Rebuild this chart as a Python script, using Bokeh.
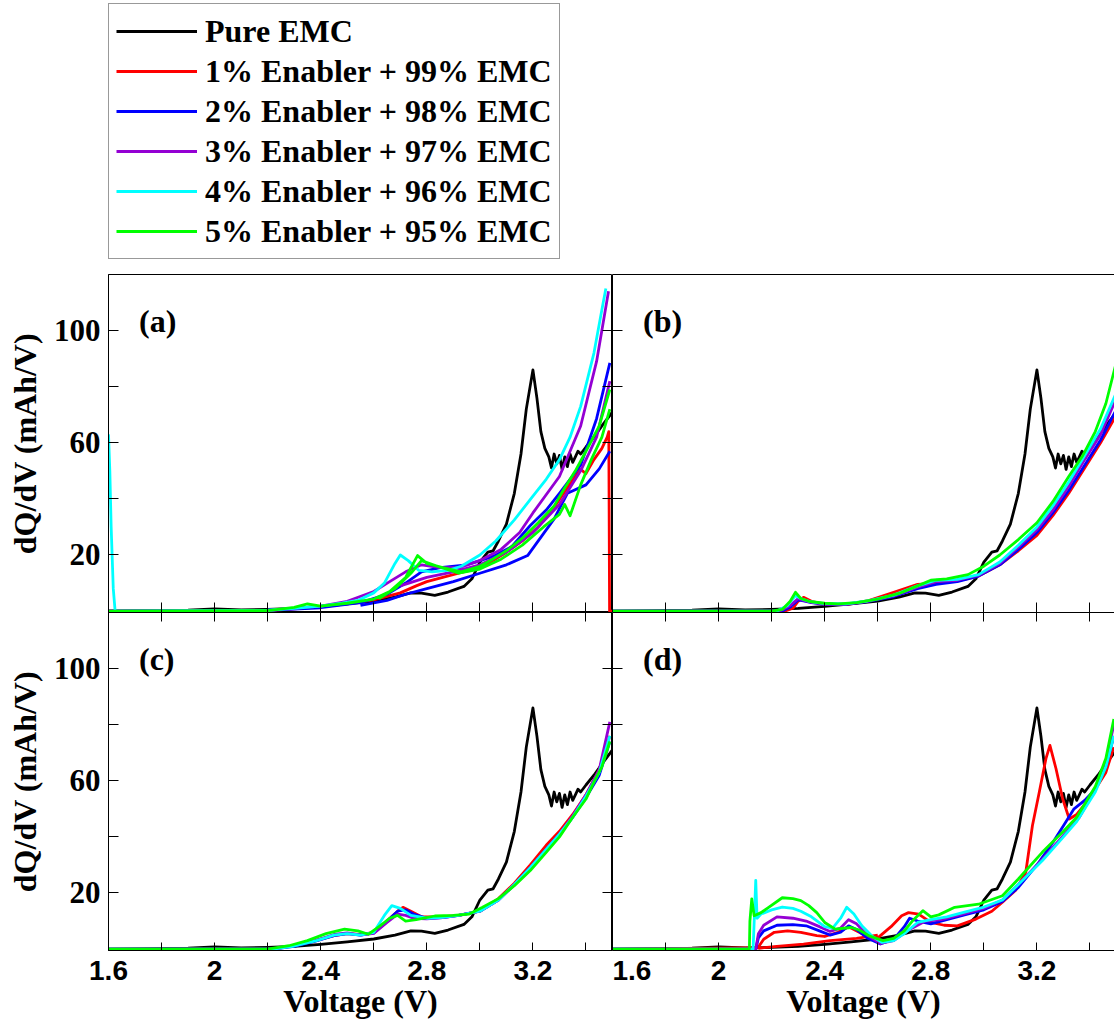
from bokeh.plotting import figure
from bokeh.models import Range1d, FixedTicker, LinearAxis, Legend, LegendItem, Label
from bokeh.layouts import column, row
from bokeh.embed import file_html
from bokeh.resources import INLINE

NAN = float("nan")

# ---- series names / colours -------------------------------------------------
NAMES = ["Pure EMC", "1% Enabler + 99% EMC", "2% Enabler + 98% EMC",
         "3% Enabler + 97% EMC", "4% Enabler + 96% EMC", "5% Enabler + 95% EMC"]
COLORS = ["#000000", "#ff0000", "#0000ff", "#9400d3", "#00ffff", "#00ff00"]

# ---- axis ticks (labelled majors, unlabelled minors) ------------------------
X_MAJOR = [1.6, 2.0, 2.4, 2.8, 3.2]
X_MINOR = [1.8, 2.2, 2.6, 3.0, 3.4]
X_LABELS = {1.6: "1.6", 2.0: "2", 2.4: "2.4", 2.8: "2.8", 3.2: "3.2"}
Y_MAJOR = [20, 60, 100]
Y_MINOR = [40, 80]

# ---- Pure EMC (same reference cell in every panel) --------------------------
BLACK_V = [1.60, 1.90, 2.00, 2.10, 2.20, 2.30, 2.40, 2.50, 2.60, 2.68, 2.74, 2.78,
           2.83, 2.88, 2.94, 2.97, 3.00, 3.03, 3.05, 3.07, 3.10, 3.13, 3.155, 3.175,
           3.20, 3.215, 3.23, 3.245, 3.26, 3.27, 3.28, 3.29, 3.30, 3.31, 3.32, 3.33,
           3.34, 3.35, 3.36, 3.37, 3.38, 3.40, 3.43, 3.46, 3.50]
BLACK_Y = [0.0, 0.3, 0.8, 0.4, 0.6, 1.0, 1.7, 2.6, 3.6, 5.0, 6.5, 6.4,
           5.6, 6.8, 8.8, 11.5, 17.5, 21.0, 21.5, 25.0, 31.0, 42.0, 56.0, 72.0,
           86.0, 76.0, 64.0, 58.0, 55.0, 51.0, 56.0, 52.5, 55.5, 50.5, 55.0, 51.5,
           56.0, 53.0, 55.0, 57.0, 56.0, 58.5, 62.0, 66.0, 71.0]

# ---- panel (a) --------------------------------------------------------------
A_RED_V = [1.60, 2.20, 2.30, 2.40, 2.50, 2.60, 2.70, 2.76, 2.80, 2.86, 2.92, 2.98,
           3.04, 3.10, 3.16, 3.22, 3.28, 3.33, 3.36, 3.38, 3.40, 3.43, 3.46, 3.48,
           3.486, 3.489, 3.50]
A_RED_Y = [0.0, 0.2, 0.8, 1.5, 2.6, 4.0, 6.5, 9.0, 10.5, 12.0, 13.5, 15.0,
           17.5, 21.0, 25.0, 30.0, 37.0, 44.0, 48.0, 50.5, 49.0, 54.0, 58.0, 62.0,
           64.0, 0.0, 0.0]
A_BLUE_V = [1.60, 2.20, 2.40, 2.55, 2.65, 2.72, 2.78, 2.85, 2.95, 3.05, 3.12, 3.19,
            3.25, 3.30, 3.38, 3.44, 3.49, NAN,
            2.55, 2.65, 2.72, 2.80, 2.90, 3.00, 3.10, 3.18, 3.28, 3.33, 3.40, 3.45, 3.49]
A_BLUE_Y = [0.0, 0.3, 1.2, 3.0, 6.0, 10.0, 14.0, 15.5, 16.5, 19.5, 23.0, 30.5,
            36.0, 42.0, 52.0, 68.6, 88.5, NAN,
            2.0, 3.8, 6.0, 8.0, 10.5, 13.5, 16.5, 19.8, 32.9, 42.0, 45.0, 50.7, 57.0]
A_PURPLE_V = [1.60, 2.20, 2.30, 2.40, 2.50, 2.60, 2.66, 2.72, 2.78, 2.85, 2.92, 3.00,
              3.08, 3.15, 3.20, 3.30, 3.38, 3.44, 3.485, NAN,
              2.70, 2.80, 2.90, 3.00, 3.10, 3.20, 3.30, 3.38, 3.44, 3.49]
A_PURPLE_Y = [0.0, 0.3, 1.0, 1.8, 3.5, 7.0, 10.5, 14.0, 16.5, 15.5, 15.5, 18.0,
              22.0, 28.0, 35.0, 48.0, 66.0, 89.0, 114.0, NAN,
              9.0, 12.0, 14.0, 16.5, 21.0, 28.0, 38.0, 50.0, 62.0, 82.0]
A_CYAN_V = [1.600, 1.605, 1.610, 1.618, 1.625, 2.20, 2.30, 2.40, 2.48, 2.54, 2.60, 2.64,
            2.68, 2.70, 2.73, 2.77, 2.82, 2.88, 2.93, 3.00, 3.06, 3.13, 3.20, 3.25,
            3.30, 3.34, 3.38, 3.43, 3.465, 3.475]
A_CYAN_Y = [63.0, 50.0, 30.0, 8.0, 0.0, 0.3, 1.0, 1.8, 2.8, 3.8, 6.5, 10.0,
            17.0, 20.0, 18.0, 14.5, 14.0, 14.5, 16.0, 20.0, 25.0, 32.5, 41.0, 47.0,
            54.0, 62.0, 73.0, 92.0, 110.0, 115.0]
A_GREEN_V = [1.60, 2.20, 2.30, 2.35, 2.40, 2.50, 2.60, 2.66, 2.72, 2.765, 2.80, 2.86,
             2.93, 3.00, 3.05, 3.10, 3.16, 3.22, 3.28, 3.32, 3.36, 3.40, 3.45, 3.49, NAN,
             2.62, 2.68, 2.74, 2.78, 2.84, 2.92, 3.00, 3.08, 3.16, 3.24, 3.30, 3.32,
             3.34, 3.38, 3.42, 3.46, 3.49]
A_GREEN_Y = [0.0, 0.2, 1.3, 2.6, 1.8, 2.8, 4.3, 7.0, 12.0, 19.8, 17.0, 15.5,
             14.0, 16.0, 18.6, 21.5, 26.0, 31.5, 37.5, 44.0, 50.0, 57.0, 66.0, 79.0, NAN,
             4.5, 8.0, 13.5, 18.0, 16.0, 13.5, 15.0, 18.5, 23.5, 30.0, 34.5, 38.0,
             34.0, 45.0, 54.0, 62.0, 72.0]

# ---- panel (b) --------------------------------------------------------------
B_RED_V = [1.60, 2.25, 2.28, 2.30, 2.32, 2.35, 2.40, 2.48, 2.56, 2.66, 2.75, 2.82,
           2.90, 2.98, 3.06, 3.13, 3.20, 3.26, 3.32, 3.38, 3.44, 3.50]
B_RED_Y = [0.0, 0.0, 1.0, 3.5, 4.9, 3.5, 2.4, 2.3, 3.6, 6.7, 9.5, 10.0,
           10.8, 12.5, 16.5, 21.5, 27.0, 34.0, 42.0, 51.0, 60.0, 70.0]
B_BLUE_V = [1.60, 2.24, 2.27, 2.30, 2.32, 2.35, 2.40, 2.48, 2.56, 2.66, 2.75, 2.82,
            2.90, 2.98, 3.06, 3.13, 3.20, 3.26, 3.32, 3.38, 3.44, 3.50]
B_BLUE_Y = [0.0, 0.0, 1.5, 4.0, 3.6, 3.0, 2.4, 2.4, 3.4, 5.2, 8.0, 9.5,
            10.5, 12.5, 16.5, 22.0, 28.0, 35.0, 43.0, 52.0, 61.0, 72.0]
B_PURPLE_V = [1.60, 2.23, 2.27, 2.30, 2.32, 2.35, 2.40, 2.48, 2.56, 2.66, 2.75, 2.82,
              2.90, 2.98, 3.06, 3.13, 3.20, 3.26, 3.32, 3.38, 3.44, 3.50]
B_PURPLE_Y = [0.0, 0.0, 2.0, 4.5, 3.8, 3.1, 2.5, 2.5, 3.5, 5.5, 8.5, 10.5,
              11.0, 12.8, 17.0, 22.8, 29.0, 36.0, 44.5, 54.0, 63.0, 76.0]
B_CYAN_V = [1.60, 2.22, 2.26, 2.29, 2.31, 2.34, 2.40, 2.48, 2.56, 2.66, 2.75, 2.82,
            2.90, 2.98, 3.06, 3.13, 3.20, 3.26, 3.32, 3.38, 3.44, 3.50]
B_CYAN_Y = [0.0, 0.0, 2.0, 5.5, 4.5, 3.5, 2.7, 2.6, 3.6, 5.7, 9.0, 11.0,
            11.3, 13.0, 17.5, 23.5, 30.0, 37.5, 46.0, 55.5, 65.0, 78.0]
B_GREEN_V = [1.60, 2.20, 2.24, 2.27, 2.29, 2.31, 2.34, 2.40, 2.45, 2.52, 2.60, 2.68,
             2.75, 2.80, 2.86, 2.94, 3.00, 3.06, 3.13, 3.20, 3.26, 3.32, 3.37, 3.42,
             3.46, 3.50]
B_GREEN_Y = [0.0, 0.0, 0.6, 3.5, 6.7, 4.5, 3.5, 2.8, 2.6, 3.0, 4.3, 6.3,
             9.0, 11.0, 11.5, 13.0, 16.0, 20.0, 25.5, 31.5, 39.0, 48.0, 55.0, 64.0,
             74.0, 89.0]

# ---- panel (c) --------------------------------------------------------------
C_RED_V = [1.60, 2.22, 2.30, 2.38, 2.45, 2.50, 2.55, 2.60, 2.65, 2.69, 2.71, 2.74,
           2.78, 2.85, 2.92, 3.00, 3.07, 3.13, 3.19, 3.25, 3.30, 3.35, 3.40, 3.45, 3.49]
C_RED_Y = [0.0, 0.0, 1.2, 3.0, 4.8, 5.5, 5.2, 6.0, 10.0, 13.5, 14.9, 13.5,
           11.5, 11.5, 12.0, 13.5, 18.0, 23.5, 30.0, 37.0, 42.0, 48.0, 55.0, 64.0, 76.0]
C_BLUE_V = [1.60, 2.22, 2.30, 2.38, 2.45, 2.50, 2.55, 2.60, 2.65, 2.69, 2.72, 2.75,
            2.80, 2.86, 2.92, 3.00, 3.07, 3.13, 3.19, 3.25, 3.30, 3.35, 3.40, 3.45, 3.49]
C_BLUE_Y = [0.0, 0.0, 1.0, 2.8, 4.8, 5.5, 5.0, 5.8, 10.0, 13.5, 14.0, 12.5,
            11.0, 11.2, 12.0, 13.5, 17.5, 23.0, 29.0, 35.5, 41.0, 47.0, 54.0, 62.0, 74.0]
C_PURPLE_V = [1.60, 2.22, 2.30, 2.38, 2.45, 2.50, 2.55, 2.60, 2.65, 2.69, 2.72, 2.75,
              2.80, 2.86, 2.92, 3.00, 3.07, 3.13, 3.19, 3.25, 3.30, 3.35, 3.40, 3.45,
              3.49]
C_PURPLE_Y = [0.0, 0.0, 1.2, 3.0, 5.2, 5.8, 5.0, 5.6, 9.5, 12.5, 12.0, 11.0,
              10.8, 11.2, 12.0, 13.5, 17.5, 23.0, 29.0, 35.5, 41.0, 47.5, 55.0, 64.0,
              81.0]
C_CYAN_V = [1.60, 2.22, 2.30, 2.38, 2.45, 2.50, 2.55, 2.60, 2.64, 2.668, 2.70, 2.74,
            2.80, 2.86, 2.92, 3.00, 3.07, 3.13, 3.19, 3.25, 3.30, 3.35, 3.40, 3.45, 3.49]
C_CYAN_Y = [0.0, 0.0, 1.1, 2.9, 5.0, 5.5, 5.0, 6.0, 12.0, 15.5, 14.5, 12.0,
            11.0, 11.3, 12.0, 13.5, 17.5, 23.0, 29.0, 35.5, 41.0, 47.0, 54.5, 63.0, 76.0]
C_GREEN_V = [1.60, 2.20, 2.28, 2.35, 2.42, 2.49, 2.54, 2.58, 2.62, 2.66, 2.69, 2.72,
             2.76, 2.83, 2.90, 2.96, 3.01, 3.07, 3.13, 3.19, 3.25, 3.30, 3.35, 3.40,
             3.43, 3.46, 3.49]
C_GREEN_Y = [0.0, 0.0, 1.2, 3.0, 5.5, 7.1, 6.5, 5.3, 8.0, 11.0, 12.0, 10.0,
             10.5, 11.8, 12.0, 12.5, 14.9, 18.0, 22.6, 28.0, 34.5, 40.0, 47.0, 53.5,
             59.5, 65.0, 74.0]

# ---- panel (d) --------------------------------------------------------------
D_RED_V = [1.60, 2.148, 2.17, 2.21, 2.26, 2.31, 2.37, 2.40, 2.45, 2.49, 2.55, 2.60,
           2.65, 2.69, 2.716, 2.754, 2.80, 2.85, 2.90, 2.97, 3.03, 3.07, 3.12, 3.158,
           3.183, 3.209, 3.234, 3.249, 3.272, 3.297, 3.322, 3.35, 3.384, 3.42, 3.46,
           3.49, NAN,
           2.15, 2.22, 2.32, 2.42, 2.52, 2.60]
D_RED_Y = [0.0, 0.5, 3.5, 6.0, 6.5, 6.0, 4.8, 4.5, 6.0, 8.0, 5.0, 4.0,
           8.0, 11.9, 13.0, 12.5, 9.5, 8.5, 8.3, 10.7, 13.5, 16.7, 21.0, 27.4,
           44.0, 56.0, 67.9, 72.6, 64.3, 53.6, 46.4, 48.0, 52.0, 57.0, 63.0,
           72.0, NAN,
           0.3, 1.0, 1.8, 3.0, 3.8, 5.0]
D_BLUE_V = [1.60, 2.14, 2.15, 2.17, 2.22, 2.28, 2.33, 2.38, 2.42, 2.46, 2.49, 2.52,
            2.56, 2.61, 2.66, 2.70, 2.72, 2.75, 2.80, 2.86, 2.92, 3.00, 3.07, 3.13,
            3.20, 3.26, 3.30, 3.34, 3.38, 3.42, 3.46, 3.49]
D_BLUE_Y = [0.0, 0.0, 4.0, 6.5, 8.5, 8.7, 8.3, 6.5, 5.0, 6.0, 8.3, 7.0,
            4.0, 1.8, 3.5, 8.0, 11.0, 10.0, 9.0, 10.5, 12.0, 14.0, 17.0, 22.0,
            30.0, 38.0, 44.0, 50.0, 53.0, 57.0, 65.0, 76.0]
D_PURPLE_V = [1.60, 2.14, 2.15, 2.17, 2.22, 2.28, 2.33, 2.38, 2.42, 2.46, 2.49, 2.52,
              2.56, 2.61, 2.66, 2.72, 2.78, 2.84, 2.92, 3.00, 3.07, 3.13, 3.22, 3.30,
              3.36, 3.42, 3.46, 3.49]
D_PURPLE_Y = [0.0, 0.0, 5.5, 8.5, 11.5, 11.0, 10.0, 8.0, 6.3, 7.5, 10.5, 9.0,
              5.0, 2.0, 3.0, 7.0, 10.0, 10.5, 12.5, 14.5, 17.5, 23.0, 32.0, 40.5,
              47.0, 57.0, 67.0, 80.0]
D_CYAN_V = [1.60, 2.13, 2.135, 2.14, 2.145, 2.16, 2.20, 2.24, 2.28, 2.31, 2.35, 2.40,
            2.43, 2.46, 2.483, 2.51, 2.54, 2.58, 2.615, 2.66, 2.70, 2.75, 2.80, 2.86,
            2.92, 3.00, 3.07, 3.13, 3.22, 3.30, 3.35, 3.42, 3.46, 3.49]
D_CYAN_Y = [0.0, 0.0, 12.0, 24.5, 11.0, 12.5, 14.0, 15.0, 14.5, 13.5, 11.5, 8.0,
            7.5, 11.0, 14.9, 12.5, 8.3, 4.5, 2.4, 3.0, 5.5, 9.5, 10.5, 11.5,
            13.0, 15.0, 17.5, 23.0, 31.5, 40.0, 45.5, 56.0, 65.0, 76.0]
D_GREEN_V = [1.60, 2.116, 2.118, 2.125, 2.134, 2.16, 2.19, 2.24, 2.28, 2.31, 2.34, 2.37,
             2.40, 2.44, 2.50, 2.53, 2.57, 2.62, 2.66, 2.70, 2.735, 2.77, 2.80, 2.83,
             2.89, 2.98, 3.07, 3.13, 3.22, 3.30, 3.35, 3.42, 3.46, 3.49]
D_GREEN_Y = [0.0, 0.0, 10.0, 17.9, 11.9, 13.0, 15.0, 18.3, 18.0, 17.3, 15.5, 13.0,
             9.5, 7.1, 7.7, 6.8, 4.6, 3.0, 3.8, 6.5, 10.5, 13.7, 11.5, 12.2,
             14.9, 16.0, 19.0, 25.0, 34.5, 42.0, 47.0, 58.0, 68.0, 82.0]

PANELS = {
    "a": [(BLACK_V, BLACK_Y), (A_RED_V, A_RED_Y), (A_BLUE_V, A_BLUE_Y),
          (A_PURPLE_V, A_PURPLE_Y), (A_CYAN_V, A_CYAN_Y), (A_GREEN_V, A_GREEN_Y)],
    "b": [(BLACK_V, BLACK_Y), (B_RED_V, B_RED_Y), (B_BLUE_V, B_BLUE_Y),
          (B_PURPLE_V, B_PURPLE_Y), (B_CYAN_V, B_CYAN_Y), (B_GREEN_V, B_GREEN_Y)],
    "c": [(BLACK_V, BLACK_Y), (C_RED_V, C_RED_Y), (C_BLUE_V, C_BLUE_Y),
          (C_PURPLE_V, C_PURPLE_Y), (C_CYAN_V, C_CYAN_Y), (C_GREEN_V, C_GREEN_Y)],
    "d": [(BLACK_V, BLACK_Y), (D_RED_V, D_RED_Y), (D_BLUE_V, D_BLUE_Y),
          (D_PURPLE_V, D_PURPLE_Y), (D_CYAN_V, D_CYAN_Y), (D_GREEN_V, D_GREEN_Y)],
}

SERIF = "Liberation Serif"
SANS = "Liberation Sans"
V_MIN, V_MAX = 1.6, 3.5
Y_MIN, Y_MAX = -0.5, 120.0
LEFT_W = 108          # room for the y axis of the left column
FRAME_W = 504
FRAME_H = 338
BOTTOM_H = 76         # room for the x axis of the bottom row
TOP_H = 274           # legend strip
TICK = 10


def tick_only_axis(ticks, tick_in=TICK, line=True):
    """Axis that draws only inward tick marks (as minor ticks, so no labels)."""
    ax = LinearAxis(ticker=FixedTicker(ticks=[], minor_ticks=ticks))
    ax.major_tick_in = 0
    ax.major_tick_out = 0
    ax.minor_tick_in = tick_in
    ax.minor_tick_out = 0
    ax.major_label_standoff = 0
    ax.minor_tick_line_color = "black"
    ax.minor_tick_line_width = 1
    ax.axis_line_color = "black" if line else None
    return ax


def make_panel(key, left, bottom):
    width = FRAME_W + LEFT_W if left else 1114 - LEFT_W - FRAME_W
    height = FRAME_H + (BOTTOM_H if bottom else 0)
    x_end = V_MAX if left else V_MIN + (V_MAX - V_MIN) * width / FRAME_W
    p = figure(width=width, height=height,
               x_range=Range1d(V_MIN, x_end), y_range=Range1d(Y_MIN, Y_MAX),
               output_backend="svg", toolbar_location=None,
               x_axis_location=None, y_axis_location=None,
               min_border_left=LEFT_W if left else 0, min_border_right=0,
               min_border_top=0, min_border_bottom=BOTTOM_H if bottom else 0,
               outline_line_color="black" if left else None, outline_line_width=1,
               background_fill_color="white", border_fill_color="white")
    p.grid.visible = False

    # y axis
    if left:
        yax = LinearAxis(ticker=FixedTicker(ticks=Y_MAJOR, minor_ticks=Y_MINOR))
        yax.major_tick_in = TICK
        yax.major_tick_out = 0
        yax.minor_tick_in = TICK
        yax.minor_tick_out = 0
        yax.major_tick_line_color = "black"
        yax.minor_tick_line_color = "black"
        yax.major_label_standoff = 8
        yax.major_label_text_font = SERIF
        yax.major_label_text_font_style = "bold"
        yax.major_label_text_font_size = "31px"
        yax.major_label_text_color = "black"
        yax.axis_label = "dQ/dV (mAh/V)"
        yax.axis_label_text_font = SERIF
        yax.axis_label_text_font_style = "bold"
        yax.axis_label_text_font_size = "32px"
        yax.axis_label_text_color = "black"
        yax.axis_label_standoff = 8
        yax.axis_line_color = "black"
    else:
        yax = tick_only_axis(Y_MAJOR + Y_MINOR)
    p.add_layout(yax, "left")

    # x axis
    if bottom:
        xax = LinearAxis(ticker=FixedTicker(ticks=X_MAJOR, minor_ticks=X_MINOR),
                         major_label_overrides=X_LABELS)
        xax.major_tick_in = 8
        xax.major_tick_out = 0
        xax.minor_tick_in = 8
        xax.minor_tick_out = 0
        xax.major_tick_line_color = "black"
        xax.minor_tick_line_color = "black"
        xax.major_label_standoff = 10
        xax.major_label_text_font = SANS
        xax.major_label_text_font_style = "bold"
        xax.major_label_text_font_size = "28px"
        xax.major_label_text_color = "black"
        xax.axis_label = "Voltage (V)"
        xax.axis_label_text_font = SERIF
        xax.axis_label_text_font_style = "bold"
        xax.axis_label_text_font_size = "32px"
        xax.axis_label_text_color = "black"
        xax.axis_label_standoff = 0
        xax.axis_line_color = "black"
    else:
        xax = tick_only_axis(X_MAJOR + X_MINOR)
    p.add_layout(xax, "below")

    # inward ticks along the shared edges, plain top edge of panel (b)
    if left:
        p.add_layout(tick_only_axis(Y_MAJOR + Y_MINOR), "right")
    if bottom:
        p.add_layout(tick_only_axis(X_MAJOR + X_MINOR, tick_in=9), "above")
    elif not left:
        p.add_layout(tick_only_axis([], tick_in=0), "above")

    for (vs, ys), color in zip(PANELS[key], COLORS):
        p.line(vs, ys, line_color=color, line_width=2.8, line_join="round")

    p.add_layout(Label(x=V_MIN + 0.115, y=110.0, text="(%s)" % key,
                       text_font=SERIF, text_font_style="bold",
                       text_font_size="32px", text_color="black",
                       text_baseline="top", text_align="left"))
    return p


# ---- legend strip -----------------------------------------------------------
lf = figure(width=1114, height=TOP_H, x_range=Range1d(0, 1), y_range=Range1d(0, 1),
            output_backend="svg", toolbar_location=None,
            x_axis_location=None, y_axis_location=None, min_border=0,
            outline_line_color=None)
lf.grid.visible = False
items = []
for name, color in zip(NAMES, COLORS):
    r = lf.line(x=[NAN], y=[NAN], line_color=color, line_width=3)
    items.append(LegendItem(label=name, renderers=[r]))
legend = Legend(items=items, location=(108, 15), orientation="vertical",
                border_line_color="#333333", border_line_width=1,
                padding=7, spacing=0, margin=0,
                glyph_width=81, glyph_height=40, label_height=40,
                label_standoff=8, label_text_font=SERIF,
                label_text_font_style="bold", label_text_font_size="32px",
                label_text_color="black", background_fill_color="white",
                background_fill_alpha=1.0)
lf.add_layout(legend, "center")

pa = make_panel("a", True, False)
pb = make_panel("b", False, False)
pc = make_panel("c", True, True)
pd = make_panel("d", False, True)

layout = column(lf, row(pa, pb), row(pc, pd))

open("out.html", "w").write(file_html(layout, INLINE))
